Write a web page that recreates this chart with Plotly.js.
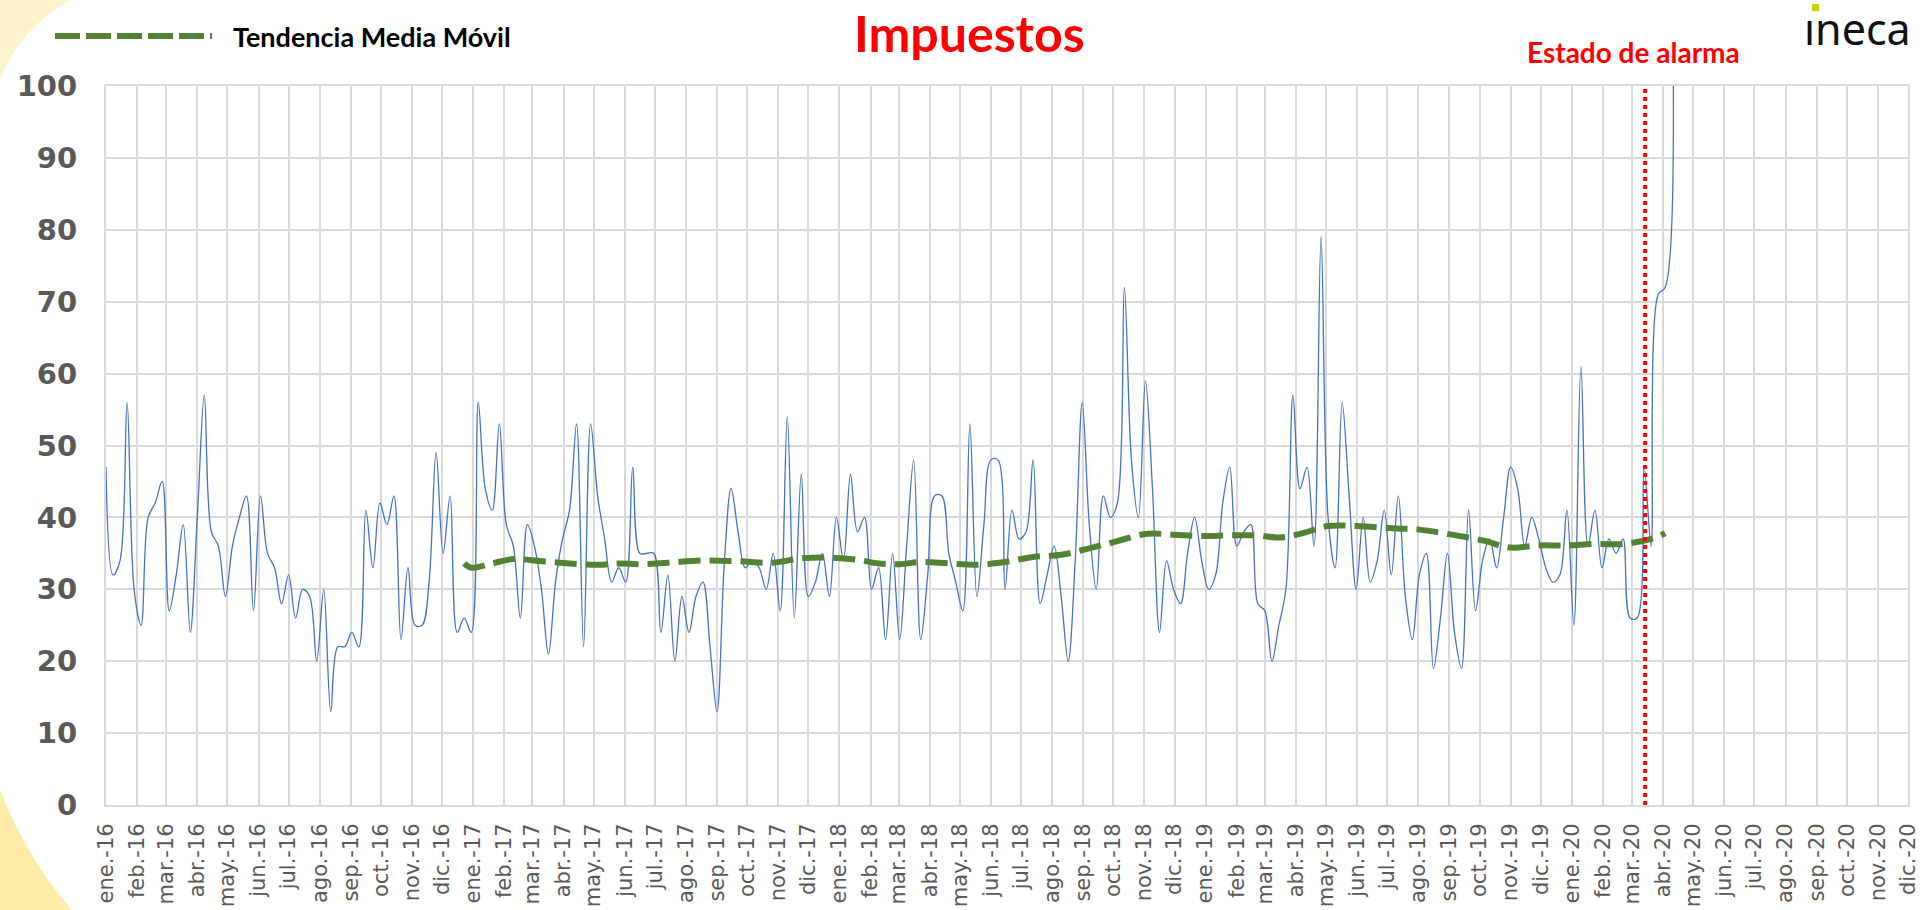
<!DOCTYPE html>
<html>
<head>
<meta charset="utf-8">
<script src="https://cdn.plot.ly/plotly-3.0.1.min.js"></script>
<style>
  html, body { margin: 0; padding: 0; background: #ffffff; }
  #chart { width: 1923px; height: 910px; }
</style>
</head>
<body>
<div id="chart"></div>
<script>
// Weekly series "Impuestos", first week starting 2016-01-01
const seriesStart = "2016-01-01";
const weekMs = 7 * 24 * 3600 * 1000;
const impuestos = [
  47, 32, 34, 56, 30, 25, 40, 42, 45, 27, 32, 39, 24, 40, 57, 38, 36, 29, 36, 40,
  43, 27, 43, 35, 33, 28, 32, 26, 30, 29, 20, 30, 13, 22, 22, 24, 22, 41, 33, 42,
  39, 43, 23, 33, 25, 25, 31, 49, 35, 43, 24, 26, 24, 56, 44, 41, 53, 39, 36, 26,
  39, 36, 30, 21, 31, 37, 41, 53, 22, 53, 43, 37, 31, 33, 31, 47, 35, 35, 35, 24,
  32, 20, 29, 24, 29, 31, 22, 13, 33, 44, 38, 33, 34, 33, 30, 35, 27, 54, 26, 46,
  29, 31, 35, 29, 40, 34, 46, 38, 40, 30, 33, 23, 35, 23, 36, 48, 23, 32, 43, 43,
  35, 31, 27, 53, 29, 39, 48, 48, 30, 41, 37, 38, 48, 28, 32, 36, 29, 20, 34, 56,
  39, 30, 43, 40, 42, 72, 48, 40, 59, 44, 24, 34, 30, 28, 35, 40, 34, 30, 32, 42,
  47, 36, 38, 39, 28, 27, 20, 25, 30, 57, 44, 47, 36, 79, 40, 33, 56, 43, 30, 40,
  31, 34, 41, 32, 43, 29, 23, 32, 35, 19, 26, 35, 24, 19, 41, 27, 34, 37, 33, 40,
  47, 44, 36, 40, 37, 33, 31, 32, 41, 25, 61, 36, 41, 33, 37, 35, 37, 26, 26, 47,
  36, 71, 72, 115
];

// Moving-average trend ("Tendencia Media Móvil")
const trendDates = [
  "2016-12-23", "2016-12-30", "2017-01-20", "2017-02-10", "2017-03-10", "2017-04-07",
  "2017-05-05", "2017-05-26", "2017-06-16", "2017-07-14", "2017-08-18", "2017-09-22",
  "2017-10-27", "2017-11-24", "2017-12-22", "2018-01-19", "2018-02-09", "2018-03-02",
  "2018-03-23", "2018-04-20", "2018-05-18", "2018-06-15", "2018-07-13", "2018-08-10",
  "2018-09-07", "2018-10-05", "2018-11-02", "2018-11-30", "2018-12-28", "2019-01-25",
  "2019-02-22", "2019-03-15", "2019-04-05", "2019-05-03", "2019-05-31", "2019-07-05",
  "2019-08-02", "2019-08-30", "2019-10-04", "2019-11-01", "2019-11-29", "2019-12-27",
  "2020-01-24", "2020-02-21", "2020-03-20", "2020-04-03"
];
const trendValues = [
  33.6, 33.0, 33.6, 34.2, 33.9, 33.6,
  33.4, 33.6, 33.5, 33.7, 34.0, 33.9,
  33.7, 34.3, 34.4, 34.1, 33.6, 33.5,
  33.8, 33.6, 33.4, 33.8, 34.5, 34.8,
  35.7, 36.7, 37.7, 37.6, 37.4, 37.5,
  37.5, 37.2, 37.7, 38.8, 38.8, 38.5,
  38.3, 37.7, 36.8, 35.8, 36.1, 36.1,
  36.3, 36.3, 37.0, 37.8
];

// Axis ticks
const tickDates = [
  "2016-01-01","2016-02-01","2016-03-01","2016-04-01","2016-05-01","2016-06-01",
  "2016-07-01","2016-08-01","2016-09-01","2016-10-01","2016-11-01","2016-12-01",
  "2017-01-01","2017-02-01","2017-03-01","2017-04-01","2017-05-01","2017-06-01",
  "2017-07-01","2017-08-01","2017-09-01","2017-10-01","2017-11-01","2017-12-01",
  "2018-01-01","2018-02-01","2018-03-01","2018-04-01","2018-05-01","2018-06-01",
  "2018-07-01","2018-08-01","2018-09-01","2018-10-01","2018-11-01","2018-12-01",
  "2019-01-01","2019-02-01","2019-03-01","2019-04-01","2019-05-01","2019-06-01",
  "2019-07-01","2019-08-01","2019-09-01","2019-10-01","2019-11-01","2019-12-01",
  "2020-01-01","2020-02-01","2020-03-01","2020-04-01","2020-05-01","2020-06-01",
  "2020-07-01","2020-08-01","2020-09-01","2020-10-01","2020-11-01","2020-12-01"
];
const tickLabels = [
  "ene.-16","feb.-16","mar.-16","abr.-16","may.-16","jun.-16","jul.-16","ago.-16","sep.-16","oct.-16","nov.-16","dic.-16",
  "ene.-17","feb.-17","mar.-17","abr.-17","may.-17","jun.-17","jul.-17","ago.-17","sep.-17","oct.-17","nov.-17","dic.-17",
  "ene.-18","feb.-18","mar.-18","abr.-18","may.-18","jun.-18","jul.-18","ago.-18","sep.-18","oct.-18","nov.-18","dic.-18",
  "ene.-19","feb.-19","mar.-19","abr.-19","may.-19","jun.-19","jul.-19","ago.-19","sep.-19","oct.-19","nov.-19","dic.-19",
  "ene.-20","feb.-20","mar.-20","abr.-20","may.-20","jun.-20","jul.-20","ago.-20","sep.-20","oct.-20","nov.-20","dic.-20"
];
const yTicks = [0, 10, 20, 30, 40, 50, 60, 70, 80, 90, 100];

const alarmDate = "2020-03-14";
const chartTitle = "Impuestos";
const trendName = "Tendencia Media Móvil";
const alarmLabel = "Estado de alarma";

// --- layout helpers (pixel -> paper) ---
const W = 1923, H = 910;
const M = { l: 106, r: 15, t: 86, b: 105 };
const PW = W - M.l - M.r, PH = H - M.t - M.b;
const px = v => (v - M.l) / PW;
const py = v => (H - M.b - v) / PH;

const traces = [
  {
    type: "scatter", mode: "lines", name: chartTitle,
    x0: seriesStart, dx: weekMs, y: impuestos,
    line: { color: "#4472C4", width: 1.3, shape: "spline", smoothing: 1 },
    showlegend: false, hoverinfo: "x+y"
  },
  {
    type: "scatter", mode: "lines", name: trendName,
    x: trendDates, y: trendValues,
    line: { color: "#548235", width: 6, dash: "22px,9px", shape: "spline", smoothing: 1 },
    showlegend: false
  }
];

const gridC = "#d9d9d9";
const layout = {
  width: W, height: H,
  margin: M,
  paper_bgcolor: "#ffffff",
  plot_bgcolor: "#ffffff",
  showlegend: false,
  xaxis: {
    type: "date",
    range: ["2016-01-01", "2020-12-01"],
    tickmode: "array", tickvals: tickDates, ticktext: tickLabels,
    tickangle: -90,
    tickfont: { family: "DejaVu Sans", size: 21, color: "#595959" },
    ticks: "", ticklabelstandoff: 8,
    showgrid: true, gridcolor: gridC, gridwidth: 2,
    showline: true, linecolor: gridC, linewidth: 2, mirror: true,
    zeroline: false, fixedrange: true
  },
  yaxis: {
    range: [0, 100],
    tickmode: "array", tickvals: yTicks,
    tickfont: { family: "DejaVu Sans", size: 29, color: "#595959", weight: "bold" },
    ticks: "", ticklabelstandoff: 21,
    showgrid: true, gridcolor: gridC, gridwidth: 2,
    showline: true, linecolor: gridC, linewidth: 2, mirror: true,
    zeroline: false, fixedrange: true
  },
  shapes: [
    // decorative corner arcs
    { type: "path", xref: "paper", yref: "paper", layer: "below",
      path: `M ${px(0)},${py(0)} L ${px(70)},${py(0)} Q ${px(18)},${py(30)} ${px(0)},${py(80)} Z`,
      fillcolor: "#FFF3CC", line: { width: 0 } },
    { type: "path", xref: "paper", yref: "paper", layer: "below",
      path: `M ${px(0)},${py(790)} Q ${px(28)},${py(860)} ${px(72)},${py(910)} L ${px(0)},${py(910)} Z`,
      fillcolor: "#FFEBA8", line: { width: 0 } },
    // legend sample line
    { type: "line", xref: "paper", yref: "paper",
      x0: px(55), x1: px(212), y0: py(36), y1: py(36),
      line: { color: "#548235", width: 6, dash: "25px,6px" } },
    // alarm line
    { type: "line", xref: "x", yref: "paper", layer: "above",
      x0: alarmDate, x1: alarmDate, y0: 0, y1: 1,
      line: { color: "#FF0000", width: 4, dash: "4px,4px" } },
    // logo dot
    { type: "rect", xref: "paper", yref: "paper",
      x0: px(1812), x1: px(1819), y0: py(11), y1: py(4),
      fillcolor: "#C8D400", line: { width: 0 } }
  ],
  annotations: [
    { xref: "paper", yref: "paper", x: px(969), y: py(33), xanchor: "center", yanchor: "middle",
      text: chartTitle, showarrow: false,
      font: { family: "Lato", size: 50, color: "#FF0000", weight: "bold" } },
    { xref: "paper", yref: "paper", x: px(231), y: py(36), xanchor: "left", yanchor: "middle",
      text: trendName, showarrow: false,
      font: { family: "Lato", size: 27, color: "#000000", weight: "bold" } },
    { xref: "paper", yref: "paper", x: px(1633), y: py(52), xanchor: "center", yanchor: "middle",
      text: alarmLabel, showarrow: false,
      font: { family: "Lato", size: 28, color: "#FF0000", weight: "bold" } },
    { xref: "paper", yref: "paper", x: px(1913), y: py(28), xanchor: "right", yanchor: "middle",
      text: "\u0131neca", showarrow: false,
      font: { family: "Noto Sans", size: 43, color: "#111111" } }
  ]
};

Plotly.newPlot("chart", traces, layout, { displayModeBar: false, staticPlot: true });
</script>
</body>
</html>
